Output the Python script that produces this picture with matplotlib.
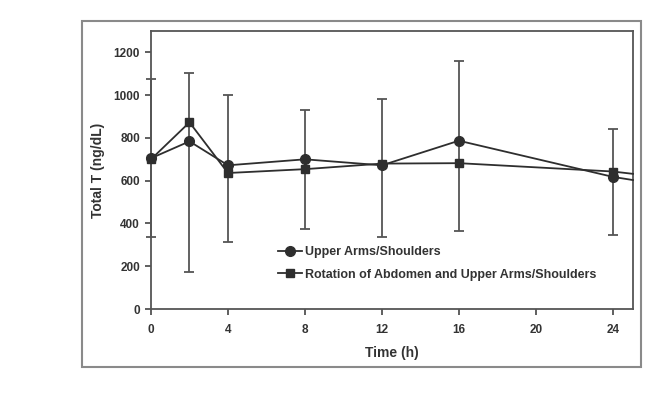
import matplotlib
matplotlib.use("Agg")
import matplotlib.pyplot as plt
from matplotlib.patches import Rectangle

plt.rcParams['font.family'] = ['Liberation Sans Narrow', 'Liberation Sans', 'DejaVu Sans']

# data
time = [0, 2, 4, 8, 12, 16, 24]
upper_arms = [705, 784, 672, 700, 672, 787, 618]
rotation = [700, 873, 636, 654, 680, 682, 643]
# error bar ends (one bar per time point)
err_top = [1077, 1105, 1002, 932, 982, 1162, 843]
err_bottom = [336, 175, 315, 375, 339, 367, 347]
# lines run on past 24 h to the frame edge
time_edge = 25.05
upper_arms_edge = 603
rotation_edge = 632

line_col = '#2e2e2e'
err_col = '#555555'

fig = plt.figure(figsize=(6.72, 3.94), dpi=100)
ax = fig.add_axes([0.2247, 0.2157, 0.942 - 0.2247, 0.9213 - 0.2157])

# outer frame round the figure
fig.patches.append(Rectangle((0.122, 0.0685), 0.954 - 0.122, 0.9467 - 0.0685,
                             transform=fig.transFigure, fill=False,
                             edgecolor='#8a8a8a', linewidth=1.5))

mid = upper_arms
yerr = [[m - b for m, b in zip(mid, err_bottom)], [t - m for m, t in zip(mid, err_top)]]
eb = ax.errorbar(time, mid, yerr=yerr, fmt='none', ecolor=err_col, elinewidth=1.3,
                 capsize=3.5, capthick=1.3, zorder=2)
for art in eb.lines[1] + eb.lines[2]:
    art.set_clip_on(False)

ax.plot(time + [time_edge], upper_arms + [upper_arms_edge], color=line_col, lw=1.3,
        marker='o', ms=7, markevery=list(range(len(time))),
        label='Upper Arms/Shoulders', zorder=3, clip_on=False)
ax.plot(time + [time_edge], rotation + [rotation_edge], color=line_col, lw=1.3,
        marker='s', ms=5.5, markevery=list(range(len(time))),
        label='Rotation of Abdomen and Upper Arms/Shoulders', zorder=3, clip_on=False)

ax.set_xlim(0, 25.05)
ax.set_ylim(0, 1300)
ax.set_xticks(range(0, 25, 4))
ax.set_yticks(range(0, 1201, 200))
ax.tick_params(direction='out', length=4, width=1.2, color='#444444',
               labelsize=8.5, labelcolor='#333333')
ax.tick_params(axis='x', pad=7)
ax.tick_params(axis='y', pad=4)
for lab in ax.get_xticklabels() + ax.get_yticklabels():
    lab.set_fontweight('bold')
for s in ax.spines.values():
    s.set_color('#555555')
    s.set_linewidth(1.3)

ax.set_xlabel('Time (h)', fontsize=10, fontweight='bold', color='#333333', labelpad=7)
ax.set_ylabel('Total T (ng/dL)', fontsize=10, fontweight='bold', color='#333333', labelpad=6)

leg = ax.legend(loc='upper left', bbox_to_anchor=(0.263, 0.226), frameon=False,
                fontsize=9, handlelength=1.9, handletextpad=0.25, borderpad=0,
                borderaxespad=0, labelspacing=0.85)
for t in leg.get_texts():
    t.set_fontweight('bold')
    t.set_color('#333333')

fig.savefig('out.png', dpi=100)
